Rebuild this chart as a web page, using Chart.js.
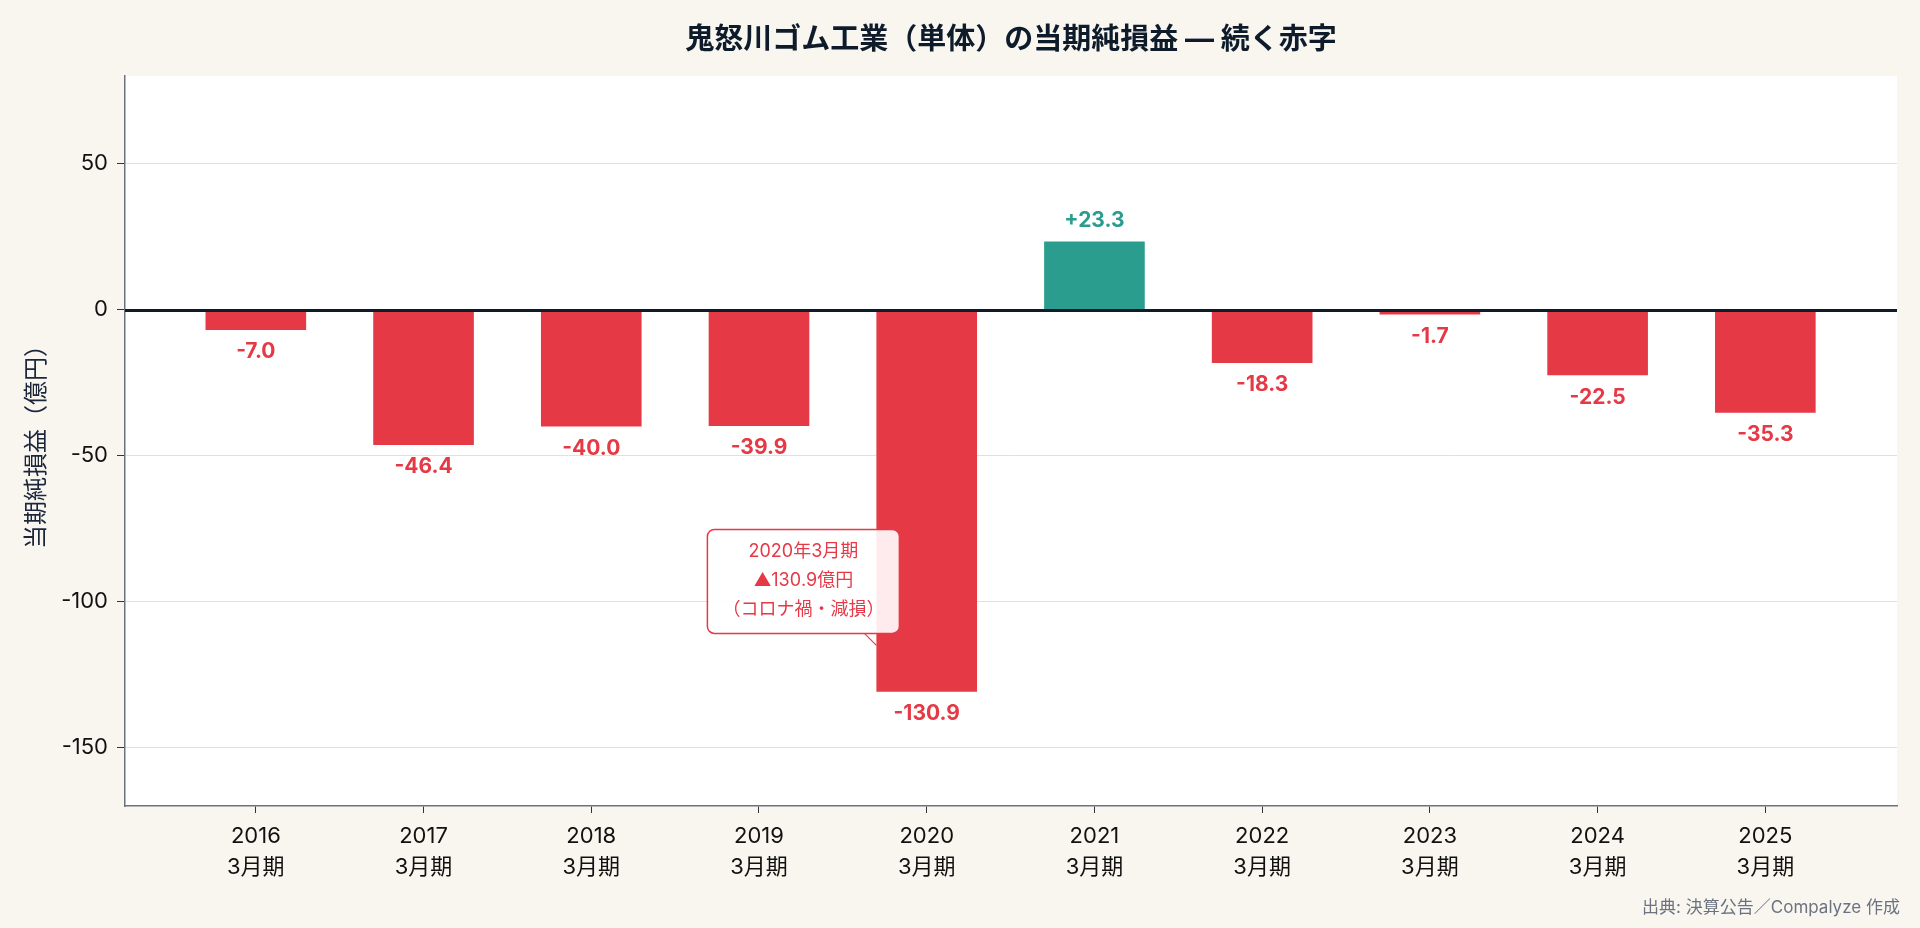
<!DOCTYPE html>
<html>
<head>
<meta charset="utf-8">
<script src="https://cdn.jsdelivr.net/npm/chart.js@4.4.1/dist/chart.umd.min.js"></script>
<style>
  html, body { margin: 0; padding: 0; background: #F9F6F0; }
  #wrap { width: 1920px; height: 928px; position: relative; }
  canvas { display: block; }
</style>
</head>
<body>
<div id="wrap"><canvas id="c" width="1920" height="928"></canvas></div>
<script>
// ---- data ----
const years = ['2016', '2017', '2018', '2019', '2020', '2021', '2022', '2023', '2024', '2025'];
const periodSuffix = '3月期';
const netIncome = [-7.0, -46.4, -40.0, -39.9, -130.9, 23.3, -18.3, -1.7, -22.5, -35.3];
const yTickValues = [-150, -100, -50, 0, 50];
const titleText = '鬼怒川ゴム工業（単体）の当期純損益 — 続く赤字';
const yTitleText = '当期純損益（億円）';
const sourceText = '出典: 決算公告／Compalyze 作成';
const noteLines = ['2020年3月期', '▲130.9億円', '（コロナ禍・減損）'];
const noteIndex = 4;
const noteValue = -115;

// ---- styles ----
const RED = '#E63946';
const TEAL = '#2A9D8F';
const NAVY = '#0D1B2A';
const GRID = '#E4E0D4';
const AXIS = '#6B7280';
const FONT = "Inter, 'Noto Sans CJK JP', sans-serif";

const points = netIncome.map((v, i) => ({ x: i, y: v }));
const colors = netIncome.map(v => v >= 0 ? TEAL : RED);

const customPlugin = {
  id: 'custom',
  beforeDraw(chart) {
    const {ctx, chartArea: a} = chart;
    ctx.save();
    ctx.fillStyle = '#FFFFFF';
    ctx.fillRect(a.left, a.top, a.right - a.left, a.bottom - a.top);
    ctx.restore();
  },
  afterDatasetsDraw(chart) {
    const {ctx, chartArea: a, scales} = chart;
    const y = scales.y;
    ctx.save();
    // zero line
    const y0 = Math.round(y.getPixelForValue(0)) + 0.5;
    ctx.strokeStyle = NAVY;
    ctx.lineWidth = 3;
    ctx.beginPath();
    ctx.moveTo(a.left, y0);
    ctx.lineTo(a.right, y0);
    ctx.stroke();

    // data labels
    const meta = chart.getDatasetMeta(0);
    ctx.font = 'bold 21px ' + FONT;
    ctx.textAlign = 'center';
    ctx.textBaseline = 'middle';
    meta.data.forEach((bar, i) => {
      const v = netIncome[i];
      const txt = (v >= 0 ? '+' : '') + v.toFixed(1);
      ctx.fillStyle = v >= 0 ? TEAL : RED;
      const yy = v >= 0 ? bar.y - 21 : bar.y + 22;
      ctx.fillText(txt, bar.x, yy);
    });

    // annotation
    const b = meta.data[noteIndex];
    const tx = b.x - b.width / 2;
    const ty = y.getPixelForValue(noteValue);
    const bw = 192, bh = 104;
    const bx = tx + 23 - bw;
    const by = ty - 12 - bh;
    ctx.strokeStyle = RED;
    ctx.lineWidth = 1.2;
    ctx.beginPath();
    ctx.moveTo(tx - 12, ty - 12);
    ctx.lineTo(tx, ty);
    ctx.stroke();
    ctx.beginPath();
    ctx.roundRect(bx, by, bw, bh, 7);
    ctx.fillStyle = 'rgba(255,255,255,0.9)';
    ctx.fill();
    ctx.lineWidth = 1.5;
    ctx.stroke();
    ctx.fillStyle = RED;
    ctx.font = '18px ' + FONT;
    ctx.textAlign = 'center';
    ctx.textBaseline = 'middle';
    noteLines.forEach((l, k) => {
      ctx.fillText(l, bx + bw / 2, by + 22 + k * 29);
    });
    ctx.restore();
  },
  afterDraw(chart) {
    const {ctx, chartArea: a} = chart;
    ctx.save();
    ctx.fillStyle = NAVY;
    ctx.font = 'bold 29px ' + FONT;
    ctx.textAlign = 'center';
    ctx.textBaseline = 'middle';
    ctx.fillText(titleText, (a.left + a.right) / 2, 40);
    ctx.fillStyle = AXIS;
    ctx.font = '17px ' + FONT;
    ctx.textAlign = 'right';
    ctx.fillText(sourceText, 1900, 908);
    ctx.restore();
  }
};

new Chart(document.getElementById('c'), {
  type: 'bar',
  data: {
    datasets: [{
      data: points,
      backgroundColor: colors,
      borderWidth: 0,
      barPercentage: 0.6,
      categoryPercentage: 1.0
    }]
  },
  options: {
    responsive: false,
    animation: false,
    devicePixelRatio: 1,
    layout: { padding: { top: 76, right: 23, bottom: 0, left: 0 } },
    plugins: {
      legend: { display: false },
      title: { display: false },
      tooltip: { enabled: false }
    },
    scales: {
      x: {
        type: 'linear',
        min: -0.78,
        max: 9.785,
        offset: false,
        afterFit(s) { s.height = 122; },
        afterBuildTicks(s) { s.ticks = years.map((_, i) => ({ value: i })); },
        grid: { display: true, offset: false, drawOnChartArea: false, drawTicks: true, tickLength: 7, tickColor: '#333', lineWidth: 1 },
        border: { display: true, color: AXIS, width: 1.5 },
        ticks: {
          color: '#111',
          font: { family: FONT, size: 22, lineHeight: 1.4 },
          padding: 8,
          maxRotation: 0,
          autoSkip: false,
          callback: (v) => [years[v], periodSuffix]
        }
      },
      y: {
        min: -170,
        max: 80,
        afterFit(s) { s.width = 125; },
        afterBuildTicks(s) { s.ticks = yTickValues.map(v => ({ value: v })); },
        grid: { color: GRID, lineWidth: 1, tickColor: '#333', tickLength: 8 },
        border: { display: true, color: AXIS, width: 1.5 },
        ticks: { color: '#111', font: { family: FONT, size: 22 }, padding: 9 },
        title: { display: true, text: yTitleText, color: '#1B263B', font: { family: FONT, size: 24 }, padding: { top: 22, bottom: 0 } }
      }
    }
  },
  plugins: [customPlugin]
});
</script>
</body>
</html>
